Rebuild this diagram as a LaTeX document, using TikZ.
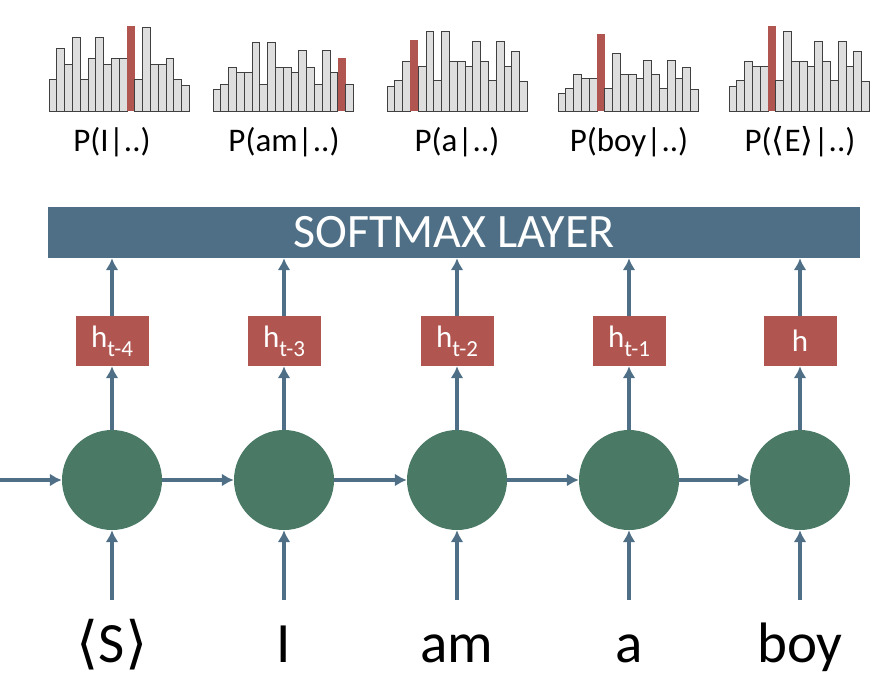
\documentclass[tikz,border=0pt]{standalone}
\usepackage{fontspec}
\setmainfont{Carlito}
\newfontfamily\bracketfont{DejaVu Sans}
\usetikzlibrary{arrows.meta}

\definecolor{cellgreen}{RGB}{74,122,102}
\definecolor{outred}{RGB}{176,85,79}
\definecolor{layerblue}{RGB}{78,111,133}
\definecolor{bargray}{RGB}{222,222,222}

\tikzset{
  cell/.style={circle, fill=cellgreen, minimum size=100pt, inner sep=0pt},
  hbox/.style={fill=outred, minimum width=73pt, minimum height=50pt, inner sep=0pt, text=white, font=\fontsize{31}{32}\selectfont},
  layer/.style={fill=layerblue, minimum width=812pt, minimum height=51pt, inner sep=0pt, text=white, font=\fontsize{48}{50}\selectfont},
  word/.style={anchor=base, font=\fontsize{57}{60}\selectfont},
  prob/.style={anchor=base, font=\fontsize{33}{36}\selectfont},
  link/.style={draw=layerblue, line width=3.4pt, -{Latex[length=12pt,width=13pt]}},
  bar/.style={fill=bargray, draw=black!75, line width=1pt},
  peak/.style={fill=outred}
}

% subscript of the h boxes
\newcommand\hsub[1]{\raisebox{-0.3em}{\fontsize{23}{23}\selectfont #1}}
% angle brackets round a token
\newcommand\tok[1]{{\bracketfont ⟨}#1{\bracketfont ⟩}}
% histogram: left x, index of the red bar, bar heights
\newcommand\drawhist[3]{%
  \foreach \v [count=\k] in {#3} {
    \ifnum\k=#2\relax
      \fill[peak] ({#1+(\k-1)*7.8},111) rectangle ++(7.8,-\v);
    \else
      \filldraw[bar] ({#1+(\k-1)*7.8},111) rectangle ++(7.8,-\v);
    \fi
  }}

\begin{document}
\begin{tikzpicture}[x=1pt,y=-1pt]
  \useasboundingbox (0,0) rectangle (874,682);

  % output distributions
  \drawhist{49}{11}{31,62,46,73,31,52,73,46,52,52,85,31,83,46,46,52,31,25}
  \drawhist{213}{17}{21,26,43,38,38,68,26,68,43,43,38,60,43,26,60,38,53,26}
  \drawhist{387}{4}{24,30,49,71,44,79,30,79,49,49,44,69,49,30,69,44,59,29}
  \drawhist{558}{6}{17,22,36,32,32,77,22,57,36,36,32,50,36,22,50,32,43,21}
  \drawhist{729}{6}{24,30,49,44,44,85,30,79,49,49,44,69,49,30,69,44,59,29}

  \node[layer] (sm) at (454,232.5) {SOFTMAX LAYER};

  \foreach \i/\x/\w/\p/\h in {
      1/112/{\tok{S}}/{P(I|..)}/{h\hsub{t-4}},
      2/284/{I}/{P(am|..)}/{h\hsub{t-3}},
      3/457/{am}/{P(a|..)}/{h\hsub{t-2}},
      4/629/{a}/{P(boy|..)}/{h\hsub{t-1}},
      5/800/{boy}/{P(\tok{E}|..)}/{h}} {
    \node[cell] (c\i) at (\x,480) {};
    \node[hbox] (h\i) at (\x,341) {\h};
    \node[word] (w\i) at (\x,662) {\w};
    \node[prob] (p\i) at (\x,151) {\p};
    \coordinate (in\i) at (\x,600);
  }

  \coordinate (feed) at (0,480);
  \draw[link] (feed) -- (c1.west);
  \foreach \i/\j in {1/2,2/3,3/4,4/5}
    \draw[link] (c\i.east) -- (c\j.west);

  \foreach \i in {1,...,5} {
    \draw[link] (in\i) -- (c\i.south);
    \draw[link] (c\i.north) -- (h\i.south);
    \draw[link] (h\i.north) -- (h\i.north |- sm.south);
  }
\end{tikzpicture}
\end{document}
